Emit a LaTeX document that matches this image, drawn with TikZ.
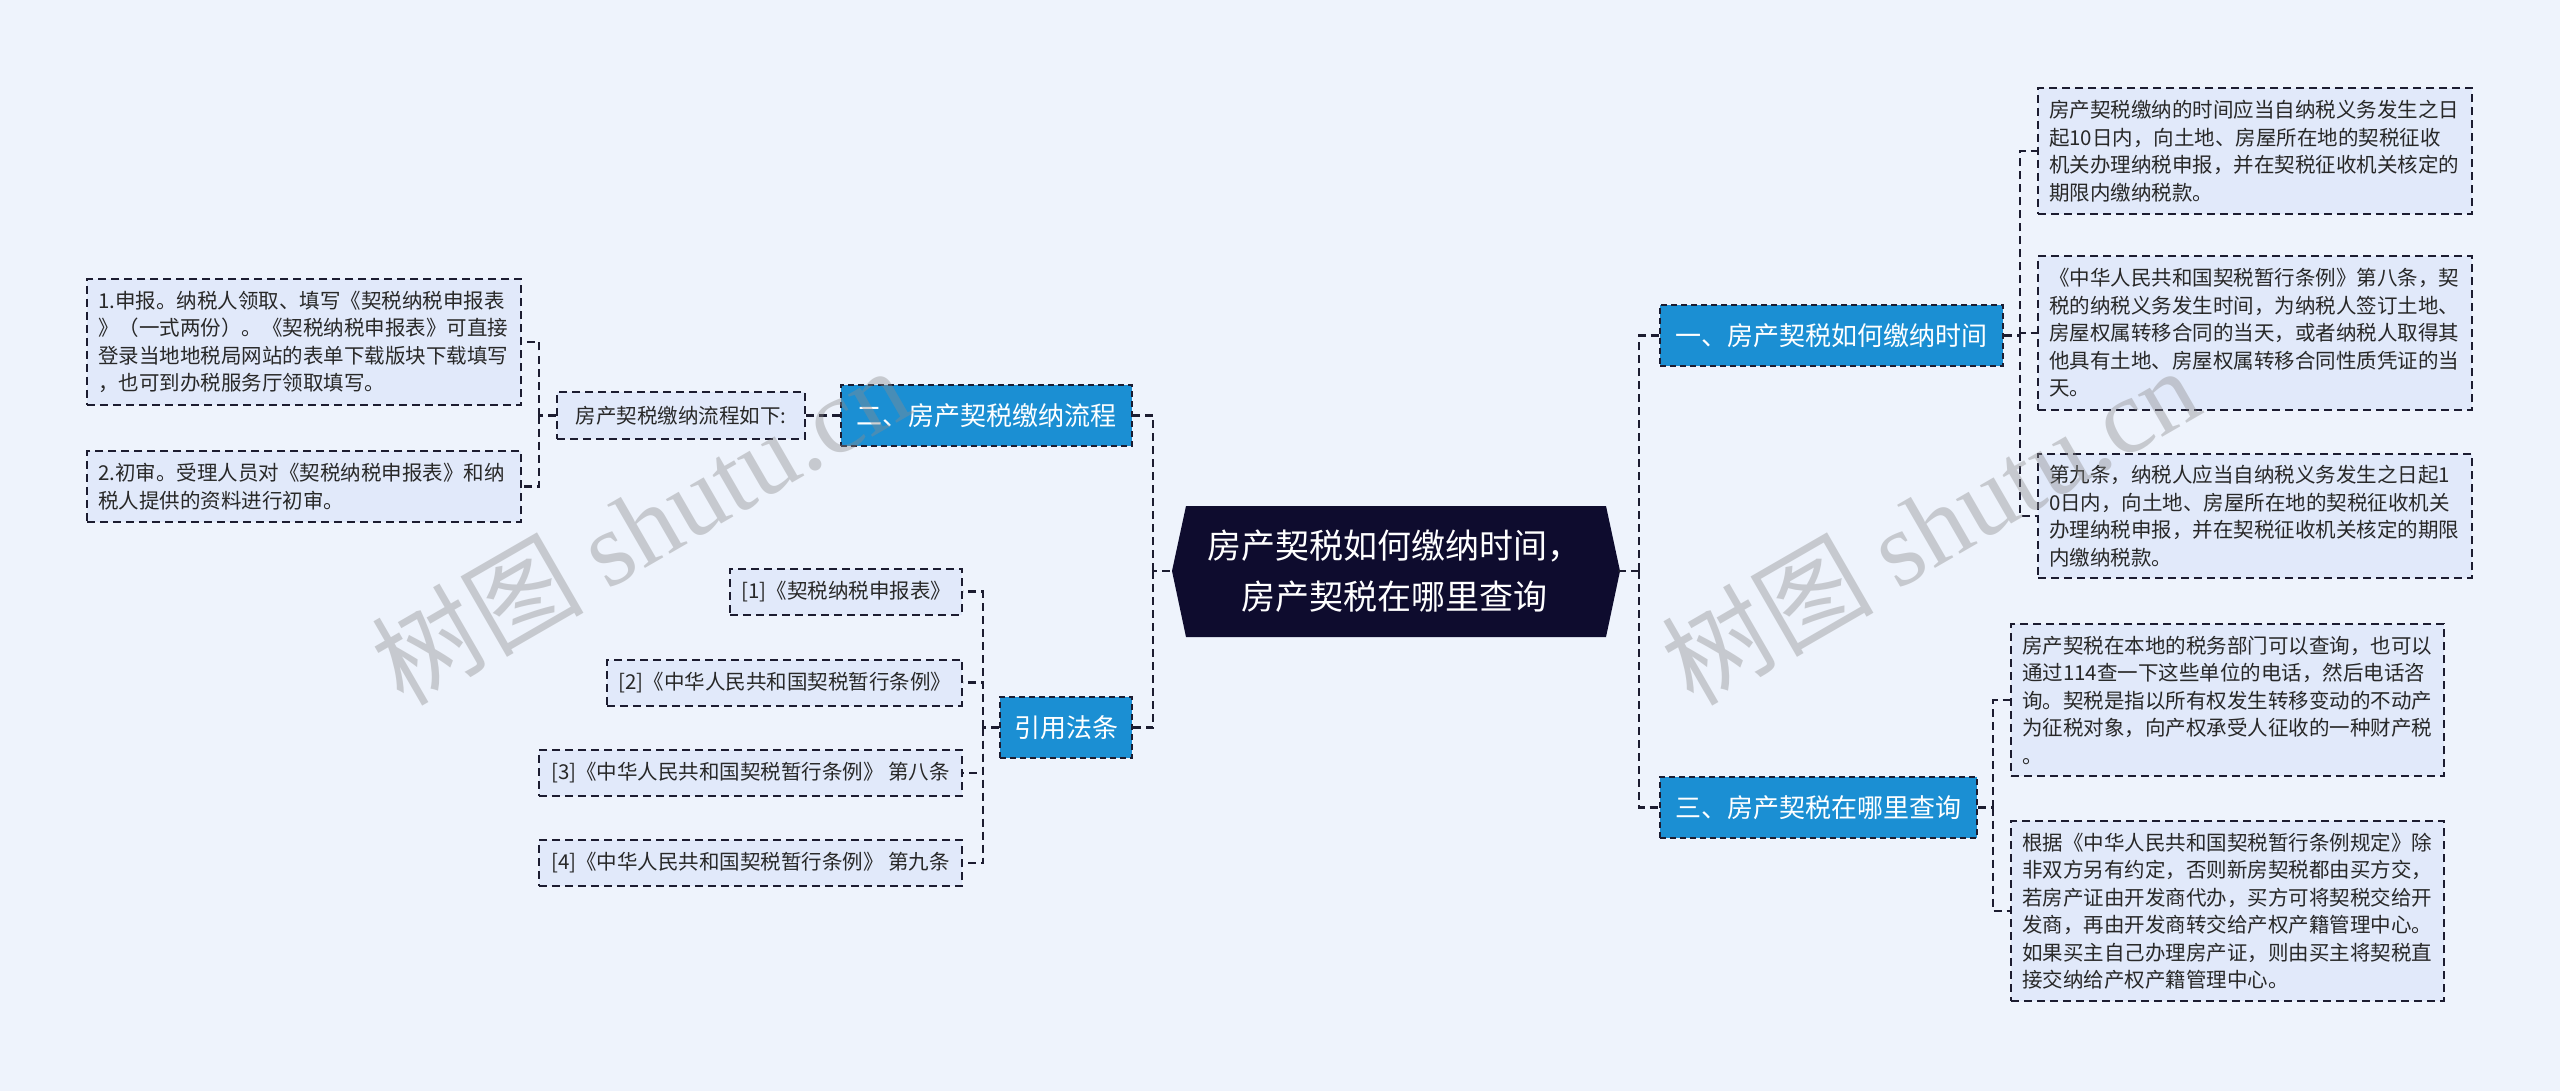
\documentclass[tikz,border=0pt]{standalone}
\usepackage{fontspec}
\setmainfont{Noto Sans CJK SC}
\newfontfamily\wmfont{Liberation Serif}
\definecolor{bg}{RGB}{238,243,252}
\definecolor{leafbg}{RGB}{225,233,250}
\definecolor{bluebox}{RGB}{27,143,211}
\definecolor{navy}{RGB}{14,12,46}
\definecolor{lineclr}{RGB}{28,28,48}
\definecolor{txt}{RGB}{40,40,40}
\definecolor{wm}{RGB}{140,140,140}
\begin{document}
\begin{tikzpicture}[x=1pt,y=-1pt,
  conn/.style={draw=lineclr, line width=2.4pt, dash pattern=on 8pt off 5pt},
  leaf/.style={draw=lineclr, line width=2pt, dash pattern=on 8pt off 5pt, fill=leafbg, text=txt,
    font=\fontsize{20.5}{27.5}\selectfont, align=left, inner xsep=11pt, inner ysep=8pt},
  cite/.style={leaf, minimum height=46pt, anchor=east},
  branch/.style={draw=lineclr, line width=2pt, dash pattern=on 6pt off 4pt, fill=bluebox, text=white,
    font=\fontsize{26}{30}\selectfont, inner xsep=13pt, minimum height=61pt},
  watermark/.style={rotate=30, text=wm, opacity=0.4, font=\fontsize{106}{106}\selectfont}
]
\useasboundingbox (0,0) rectangle (2560,1091);
\fill[bg] (0,0) rectangle (2560,1091);

% central topic
\fill[navy] (1172,571) -- (1186,506) -- (1606,506) -- (1620,571) -- (1606,637) -- (1186,637) -- cycle;
\node[minimum width=448pt, minimum height=131pt, inner sep=0pt, text=white,
  font=\fontsize{34}{51}\selectfont, align=center] (c) at (1394,571)
  {房产契税如何缴纳时间，\\房产契税在哪里查询};

% right branches
\node[branch, anchor=west, minimum width=343pt] (r1) at (1659,335.5) {一、房产契税如何缴纳时间};
\node[branch, anchor=west, minimum width=317pt] (r3) at (1659,807.5) {三、房产契税在哪里查询};

\node[leaf, text width=412pt, minimum height=126pt] (l1a) at (2255,151)
  {房产契税缴纳的时间应当自纳税义务发生之日\\起10日内，向土地、房屋所在地的契税征收\\机关办理纳税申报，并在契税征收机关核定的\\期限内缴纳税款。};
\node[leaf, text width=412pt, minimum height=154pt] (l1b) at (2255,333)
  {《中华人民共和国契税暂行条例》第八条，契\\税的纳税义务发生时间，为纳税人签订土地、\\房屋权属转移合同的当天，或者纳税人取得其\\他具有土地、房屋权属转移合同性质凭证的当\\天。};
\node[leaf, text width=412pt, minimum height=124pt] (l1c) at (2255,516)
  {第九条，纳税人应当自纳税义务发生之日起1\\0日内，向土地、房屋所在地的契税征收机关\\办理纳税申报，并在契税征收机关核定的期限\\内缴纳税款。};

\node[leaf, text width=411pt, minimum height=152pt] (l3a) at (2227.5,700)
  {房产契税在本地的税务部门可以查询，也可以\\通过114查一下这些单位的电话，然后电话咨\\询。契税是指以所有权发生转移变动的不动产\\为征税对象，向产权承受人征收的一种财产税\\。};
\node[leaf, text width=411pt, minimum height=180pt] (l3b) at (2227.5,911)
  {根据《中华人民共和国契税暂行条例规定》除\\非双方另有约定，否则新房契税都由买方交，\\若房产证由开发商代办，买方可将契税交给开\\发商，再由开发商转交给产权产籍管理中心。\\如果买主自己办理房产证，则由买主将契税直\\接交纳给产权产籍管理中心。};

% left branches
\node[branch, anchor=east, minimum width=291pt] (b2) at (1133,415.5) {二、房产契税缴纳流程};
\node[branch, anchor=east, minimum width=132pt] (b4) at (1133,727.5) {引用法条};

\node[leaf, minimum width=248pt, minimum height=47pt] (sub) at (681,415.5) {房产契税缴纳流程如下:};
\node[leaf, text width=412pt, minimum height=126pt] (p1) at (304,342)
  {1.申报。纳税人领取、填写《契税纳税申报表\\》（一式两份）。《契税纳税申报表》可直接\\登录当地地税局网站的表单下载版块下载填写\\，也可到办税服务厅领取填写。};
\node[leaf, text width=412pt, minimum height=71pt] (p2) at (304,486.5)
  {2.初审。受理人员对《契税纳税申报表》和纳\\税人提供的资料进行初审。};

\node[cite, minimum width=230pt] (k1) at (963,591.5) {[1]《契税纳税申报表》};
\node[cite, minimum width=354pt] (k2) at (963,682.5) {[2]《中华人民共和国契税暂行条例》};
\node[cite, minimum width=423pt] (k3) at (963,773) {[3]《中华人民共和国契税暂行条例》 第八条};
\node[cite, minimum width=423pt] (k4) at (963,863) {[4]《中华人民共和国契税暂行条例》 第九条};

% junctions
\coordinate (rj) at (1639,571);
\coordinate (lj) at (1153,571);
\coordinate (r1j) at (2020,335.5);
\coordinate (r3j) at (1993,807.5);
\coordinate (b4j) at (983,727.5);
\coordinate (subj) at (539,415.5);

% connectors
\draw[conn] (c.east) -- (rj);
\draw[conn] (rj) |- (r1.west);
\draw[conn] (rj) |- (r3.west);
\draw[conn] (c.west) -- (lj);
\draw[conn] (lj) |- (b2.east);
\draw[conn] (lj) |- (b4.east);

\draw[conn] (r1.east) -- (r1j);
\draw[conn] (r1j) |- (l1a.west);
\draw[conn] (r1j) |- (l1b.west);
\draw[conn] (r1j) |- (l1c.west);

\draw[conn] (r3.east) -- (r3j);
\draw[conn] (r3j) |- (l3a.west);
\draw[conn] (r3j) |- (l3b.west);

\draw[conn] (b2.west) -- (sub.east);
\draw[conn] (sub.west) -- (subj);
\draw[conn] (subj) |- (p1.east);
\draw[conn] (subj) |- (p2.east);

\draw[conn] (b4.west) -- (b4j);
\draw[conn] (b4j) |- (k1.east);
\draw[conn] (b4j) |- (k2.east);
\draw[conn] (b4j) |- (k3.east);
\draw[conn] (b4j) |- (k4.east);

% watermarks
\node[watermark] (wm1) at (640,525) {树图 {\wmfont shutu.cn}};
\node[watermark] (wm2) at (1930,525) {树图 {\wmfont shutu.cn}};
\end{tikzpicture}
\end{document}
